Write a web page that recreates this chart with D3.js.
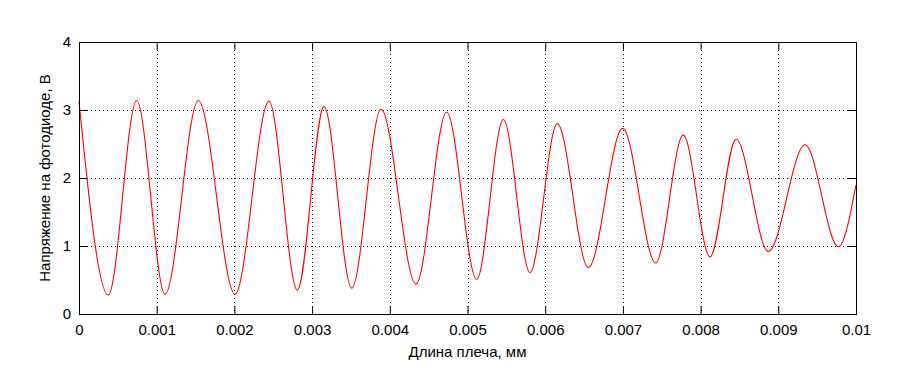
<!DOCTYPE html>
<html>
<head>
<meta charset="utf-8">
<script src="https://cdn.jsdelivr.net/npm/d3@7"></script>
<style>
  body { margin: 0; background: #fff; }
  text { font-family: Arial, "Liberation Sans", Helvetica, sans-serif; fill: #000; }
</style>
</head>
<body>
<div id="chart"></div>
<script>
// extrema of the trace (arm length, mm)
var armLength = [0, 0.000377, 0.000742, 0.001107, 0.001536, 0.002008, 0.002445, 0.00281,
    0.003153, 0.00351, 0.003887, 0.004337, 0.004732, 0.005118, 0.005461, 0.005804,
    0.006156, 0.006555, 0.006997, 0.007422, 0.007777, 0.008121, 0.008456, 0.008872,
    0.009344, 0.009773, 0.01];
// photodiode voltage, V
var voltage = [3.12, 0.28, 3.14, 0.29, 3.14, 0.29, 3.13, 0.35,
    3.05, 0.38, 3.01, 0.44, 2.97, 0.51, 2.86, 0.61,
    2.80, 0.68, 2.73, 0.75, 2.63, 0.84, 2.57, 0.92,
    2.49, 0.99, 1.90];
var xTicks = [0, 0.001, 0.002, 0.003, 0.004, 0.005, 0.006, 0.007, 0.008, 0.009, 0.01];
var yTicks = [0, 1, 2, 3, 4];
var xLabel = "Длина плеча, мм";
var yLabel = "Напряжение на фотодиоде, В";

var W = 900, H = 386;
var margin = {top: 42, right: 44, bottom: 72, left: 79};
var width = W - margin.left - margin.right,
    height = H - margin.top - margin.bottom;

var svg = d3.select("#chart").append("svg")
    .attr("width", W)
    .attr("height", H);
var g = svg.append("g")
    .attr("transform", "translate(" + margin.left + "," + margin.top + ")");

var x = d3.scaleLinear().domain([0, 0.01]).range([0, width]);
var y = d3.scaleLinear().domain([0, 4]).range([height, 0]);

// grid
g.append("g").selectAll("line").data(xTicks.slice(1, -1)).enter().append("line")
    .attr("x1", function(d) { return Math.round(x(d)) + 0.5; })
    .attr("x2", function(d) { return Math.round(x(d)) + 0.5; })
    .attr("y1", 0).attr("y2", height)
    .attr("stroke", "#000").attr("stroke-dasharray", "1,3");
g.append("g").selectAll("line").data(yTicks.slice(1, -1)).enter().append("line")
    .attr("y1", function(d) { return Math.round(y(d)) + 0.5; })
    .attr("y2", function(d) { return Math.round(y(d)) + 0.5; })
    .attr("x1", 0).attr("x2", width)
    .attr("stroke", "#000").attr("stroke-dasharray", "1,3");

// axes with inner ticks (all four sides)
var tickLen = 8;
var fmt = function(d) { return d === 0 ? "0" : d3.format("")(+d.toFixed(3)); };
var xAxis = g.append("g").attr("transform", "translate(0," + height + ")")
    .call(d3.axisBottom(x).tickValues(xTicks).tickSizeInner(-tickLen).tickSizeOuter(0)
        .tickPadding(10).tickFormat(fmt));
g.append("g")
    .call(d3.axisTop(x).tickValues(xTicks).tickSizeInner(-tickLen).tickSizeOuter(0).tickFormat(""));
var yAxis = g.append("g")
    .call(d3.axisLeft(y).tickValues(yTicks).tickSizeInner(-tickLen).tickSizeOuter(0)
        .tickPadding(8).tickFormat(d3.format("d")));
g.append("g").attr("transform", "translate(" + width + ",0)")
    .call(d3.axisRight(y).tickValues(yTicks).tickSizeInner(-tickLen).tickSizeOuter(0).tickFormat(""));

g.selectAll(".domain").remove();
g.selectAll(".tick line").attr("stroke", "#000");
g.selectAll(".tick text").style("font-size", "15px");

// curve
var line = d3.line()
    .x(function(d) { return x(d[0]); })
    .y(function(d) { return y(d[1]); })
    .curve(d3.curveMonotoneX);
var pts = armLength.map(function(v, i) { return [v, voltage[i]]; });
g.append("path")
    .datum(pts)
    .attr("d", line)
    .attr("fill", "none")
    .attr("stroke", "#ff0000")
    .attr("stroke-width", 1.1);

// box
g.append("rect")
    .attr("x", 0.5).attr("y", 0.5)
    .attr("width", width).attr("height", height)
    .attr("fill", "none").attr("stroke", "#000");

// labels
svg.append("text")
    .attr("x", margin.left + width / 2)
    .attr("y", 357)
    .attr("text-anchor", "middle")
    .style("font-size", "15px")
    .text(xLabel);
svg.append("text")
    .attr("transform", "translate(50," + (margin.top + height / 2) + ") rotate(-90)")
    .attr("text-anchor", "middle")
    .style("font-size", "15px")
    .text(yLabel);
</script>
</body>
</html>
